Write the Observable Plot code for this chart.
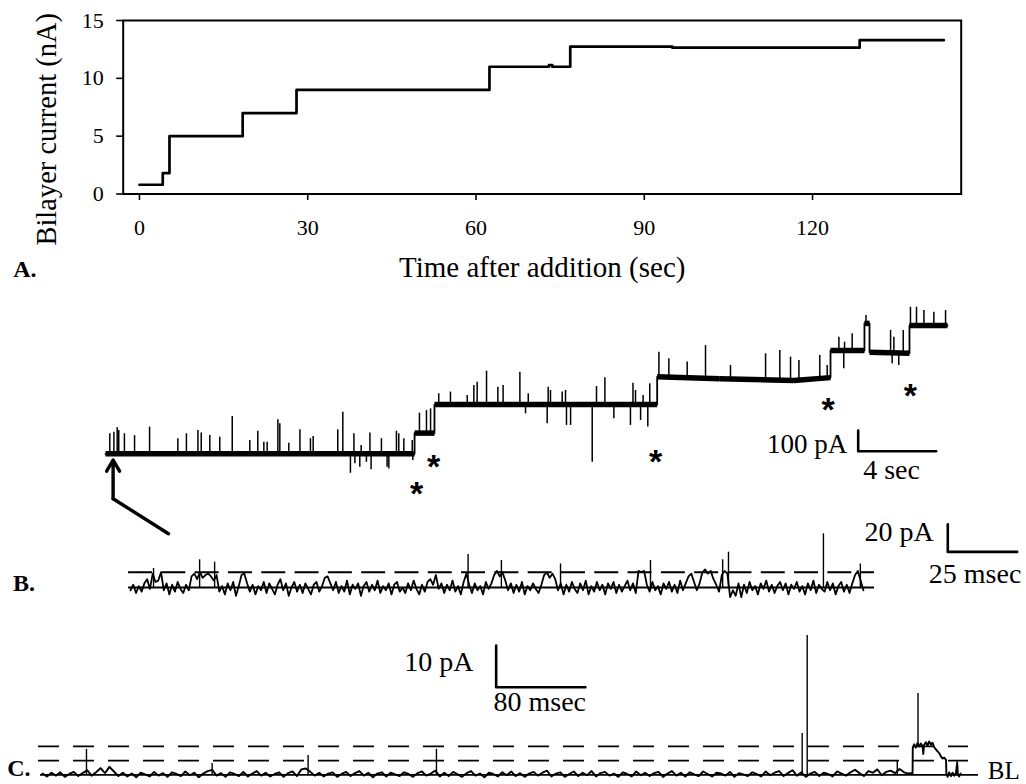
<!DOCTYPE html>
<html><head><meta charset="utf-8">
<script src="https://cdn.jsdelivr.net/npm/d3@7"></script>
<script src="https://cdn.jsdelivr.net/npm/@observablehq/plot@0.6"></script>
<style>
html,body{margin:0;padding:0;background:#fff;overflow:hidden;}
#fig{position:relative;width:1026px;height:784px;background:#fff;}
#fig svg{position:absolute;left:0;top:0;}
</style></head><body><div id="fig"></div>
<script>
// ---------- Panel A: bilayer current vs time ----------
const stepTime    = [0, 4.15, 5.35, 18.4, 28.0, 62.4, 73.0, 73.6, 76.8, 95, 128.4, 143.4];
const stepCurrent = [0.8, 1.8, 5.0, 7.0, 9.0, 11.0, 11.15, 11.0, 12.75, 12.65, 13.3, 13.3];
const xTicksA = [0, 30, 60, 90, 120];
const yTicksA = [0, 5, 10, 15];

// ---------- Panel B (overview trace, sec / pA) ----------
const ovT = [0, 15.85, 15.85, 16.87, 16.87, 28.29, 28.29, 31.5, 35.3, 37.18, 37.18, 38.92, 38.92, 39.18, 39.18, 41.23, 41.23, 43.18];
const ovI = [0, 0, 100, 100, 238, 238, 372, 362, 354, 368, 499, 499, 630, 630, 491, 486, 620, 620];
// spikes: [time sec, tip pA]
const ovSpikes = [
  [0.22,97],[0.43,104],[0.60,126],[0.68,113],[0.97,97],[1.49,88],[2.26,129],[3.71,73],[4.15,97],[4.74,113],
  [4.91,100],[5.35,88],[5.86,80],[6.50,180],[7.40,64],[7.81,109],[8.12,56],[8.29,56],[8.84,164],[8.94,145],
  [9.40,51],[9.97,116],[10.51,73],[10.65,84],[11.91,116],[12.17,201],[12.74,97],[13.11,40],[13.56,100],[14.15,73],
  [14.92,109],[15.04,97],[15.30,73],[15.73,64],
  [12.56,-94],[12.79,-48],[13.04,-65],[13.38,-41],[13.62,-77],[14.44,-65],[14.53,-73],[15.76,-32],
  [16.10,196],[16.46,209],[16.67,217],
  [17.09,290],[17.69,298],[18.55,282],[18.89,330],[19.06,346],[19.54,399],[20.12,322],[20.39,330],[21.25,394],
  [21.68,290],[22.70,322],[22.82,306],[23.42,298],[23.59,306],
  [21.54,193],[22.65,145],[23.64,137],
  [25.18,325],[25.61,367],[27.05,341],[27.18,306],[27.57,282],[27.91,338],
  [23.85,137],[24.96,-41],[26.07,169],[26.92,137],[27.44,161],[27.81,129],
  [28.38,491],[28.89,459],[29.83,443],[30.77,523],[32.05,427],[33.85,483],[34.58,499],[35.13,467],[35.56,451],
  [36.63,475],[37.01,427],
  [37.61,563],[37.90,539],[38.29,580],[37.86,411],
  [39.0,668],
  [40.26,596],[40.43,563],[40.91,596],[40.34,435],[40.68,427],
  [41.28,708],[41.59,708],[41.97,692],[42.48,684],[43.08,692]
];
// insertion events marked with asterisks: [time sec, pA]
const asterisks = [[15.95,-153],[16.82,-22.7],[28.21,2.9],[37.06,253],[41.28,321.7]];
const ovBar = {dt: 4, di: 100};   // 4 sec, 100 pA

// ---------- Panel B (expanded trace, 1 ms samples, pA) ----------
const zoomStep = 1;
const zNoise = [
  -2,2,-4,1,-3,3,6,-1,10,4,
  5,11,-2,3,-5,2,-3,4,-1,-4,
  2,-2,8,10,6,11,7,9,10,8,
  5,9,-3,1,-5,3,-2,4,-6,1,
  9,10,3,-3,2,-5,1,-2,4,-4,
  3,-1,-5,2,6,-2,3,-6,0,4,
  -3,2,-4,3,-1,-5,2,4,-3,1,
  7,8,3,-2,4,-4,1,-3,5,-5,
  2,-1,3,-6,1,4,-3,2,-2,5,
  -4,1,-2,3,-5,2,4,-3,0,-4,
  3,-2,5,-1,-5,2,-3,4,6,2,
  9,-1,3,-4,2,-2,5,-3,1,-5,
  4,10,2,-4,3,-2,1,-5,4,-1,
  3,9,12,8,11,5,-2,3,-4,2,
  -3,4,-5,1,-2,3,-1,-4,2,9,
  11,7,10,6,-2,3,-5,2,-3,4,
  -1,-4,3,-2,5,-5,1,-3,4,-2,
  2,-5,3,-1,4,-4,2,-3,1,5,
  -2,3,-4,12,11,12,2,-3,4,-2,
  1,-5,3,-1,4,-3,2,-4,5,-2,
  3,8,10,4,-2,3,11,13,10,12,
  6,2,-3,9,12,10,-7,-2,-6,3,
  -7,2,-4,4,-2,1,-5,3,-1,5,
  -3,2,-4,1,4,-2,3,-5,2,-1,
  4,-3,1,-5,3,-2,5,-4,2,-1,
  -3,4,-2,3,-5,1,4,-3,2,-4,
  3,9,12,5,-2
];
const zSpikes = [[8.3,13.7],[24.9,20],[30.3,18.3],[121.6,23.8],[133.6,19.5],[154.9,17],[187.3,19.5],[213.3,20],[215.4,25.5],[249.6,38.8],[262.9,17]];
const zOpenLevel = 11;
const zBar = {dt: 25, di: 20};    // 25 msec, 20 pA

// ---------- Panel C (4 ms samples, pA) ----------
const cStep = 4;
const cNoise = [
  0.3,-0.4,0.5,-0.2,0.6,-0.5,0.2,0.7,-0.3,0.4,
  1.1,-0.2,0.6,1.6,0.4,1.9,0.8,-0.3,0.5,-0.4,
  0.3,-0.6,0.5,0.1,-0.4,0.7,-0.2,0.4,-0.5,0.6,
  0.2,-0.3,0.8,-0.1,0.5,-0.6,0.3,0.9,1.2,-0.2,
  0.4,-0.5,0.6,0.2,-0.3,0.7,-0.4,0.3,0.9,-0.2,
  0.5,-0.4,0.2,0.6,-0.5,0.4,0.8,-0.3,1.3,1.5,
  0.7,-0.2,0.5,-0.4,0.3,0.6,-0.5,0.2,0.7,-0.3,
  0.4,0.9,-0.2,0.5,-0.6,0.3,0.6,-0.4,0.5,0.1,
  -0.3,0.6,0.2,-0.5,0.4,0.8,-0.2,0.3,1.0,-0.4,
  0.5,-0.3,0.7,0.1,-0.5,0.4,0.9,-0.2,0.3,-0.6,
  0.5,0.2,-0.4,0.6,-0.1,0.8,-0.3,0.4,-0.5,0.3,
  0.7,-0.2,0.5,1.0,-0.4,0.3,0.6,-0.5,0.2,0.8,
  -0.3,0.5,-0.1,0.9,-0.4,0.4,0.7,-0.2,0.3,-0.5,
  0.6,0.2,-0.4,0.8,-0.1,0.5,-0.3,0.4,0.7,-0.5,
  0.3,0.9,-0.2,0.5,-0.4,0.6,0.1,-0.3,0.8,0.2,
  -0.4,0.5,0.3,-0.2,0.7,-0.5,0.4,0.1,-0.3,0.6,
  0.2,-0.4,0.8,-0.1,0.5,0.9,-0.3,0.4,1.1,-0.2,
  0.6,-0.5,0.3,0.7,-0.3,0.5,0.2,-0.4,0.8,0.3,
  -0.2,0.6,1.2,0.4,-0.3,0.9,0.5,1.3,-0.1,0.7,
  1.0,0.4,1.4,0.6,0.3
];
// channel opening at the end of trace C: [ms, pA]
const cOpen = [[778,0.4],[779.6,0.1],[779.8,6.6],[781,7.3],[782.5,6.5],[784,7.6],[785.5,6.8],[787,7.5],[788.5,6.9],[789.2,5.0],[790,7.2],[791.5,7.8],[793,7.0],[794.5,8.0],[796,7.2],[797.5,7.7],[799,6.6],[800.5,6.1],[802,5.6],[803.5,5.2],[805,4.4],[806.5,3.9],[808,4.1],[809.6,3.6],[809.9,0.2],[811,-0.5],[812.5,0.6],[814,-0.3],[815.5,0.5],[817,-0.2],[818.5,0.4],[819.6,3.0],[820.2,0.1],[821.4,-0.4],[822.6,0.3]];
// spikes: [ms, tip pA, base pA]
const cSpikes = [[39.4,6.1,0],[152,2.7,0],[238,4.6,0],[353,6.1,0],[680.7,9.9,0],[685.2,33.4,0],[765.9,3.4,0],[784.5,19.5,7]];
const cLevels = [3.4, 6.8];
const cBar = {dt: 80, di: 10};    // 80 msec, 10 pA

// ---------- build tables ----------
const dataA = stepTime.map((t, k) => ({t, i: stepCurrent[k]}));
const ov = ovT.map((t, k) => ({t, i: ovI[k]}));
const ovFlat = [];
for (let k = 0; k < ov.length - 1; k++) if (ov[k+1].t > ov[k].t) ovFlat.push({t1: ov[k].t, t2: ov[k+1].t, i1: ov[k].i, i2: ov[k+1].i});
function levelAt(t) {
  for (const s of ovFlat) if (t >= s.t1 && t <= s.t2) return s.i1 + (s.i2 - s.i1) * (t - s.t1) / (s.t2 - s.t1);
  return ovI[ovI.length - 1];
}
const ovSp = ovSpikes.map(([t, tip]) => ({t, tip, base: levelAt(t)}));
const zData = zNoise.map((v, k) => ({t: k * zoomStep, i: v}));
const zSp = zSpikes.map(([t, tip]) => ({t, tip}));
const cData = cNoise.map((v, k) => ({t: k * cStep, i: v})).concat(cOpen.map(([t, i]) => ({t, i})));
const cSp = cSpikes.map(([t, tip, base]) => ({t, tip, base}));

const serif = "'Liberation Serif', 'Times New Roman', serif";
const baseStyle = {background: "transparent", overflow: "visible", fontFamily: serif, color: "black"};
const fig = document.getElementById("fig");

// ---------- Panel A ----------
fig.append(Plot.plot({
  width: 1026, height: 784,
  marginLeft: 122.7, marginRight: 65.3, marginTop: 20, marginBottom: 590.5,
  x: {domain: [-2.9, 146.5]},
  y: {domain: [0, 15]},
  style: {...baseStyle, fontSize: "22px"},
  marks: [
    Plot.axisX({ticks: xTicksA, tickSize: 6.5, tickPadding: 19, fontSize: 22, label: null, strokeWidth: 1.6}),
    Plot.axisY({ticks: yTicksA, tickSize: 6.5, tickPadding: 13, fontSize: 22, label: null, strokeWidth: 1.6}),
    Plot.frame({stroke: "black", strokeWidth: 2}),
    Plot.line(dataA, {x: "t", y: "i", curve: "step-after", stroke: "black", strokeWidth: 2.7}),
    Plot.text(["Time after addition (sec)"], {frameAnchor: "bottom", dy: 83, textAnchor: "middle", lineAnchor: "bottom", fontSize: 29}),
    Plot.text(["Bilayer current (nA)"], {frameAnchor: "left", dx: -67.7, dy: 22, rotate: -90, textAnchor: "middle", lineAnchor: "bottom", fontSize: 28.5}),
    Plot.text(["A."], {frameAnchor: "bottom-left", dx: -110, dy: 83, textAnchor: "start", lineAnchor: "bottom", fontSize: 24, fontWeight: "bold"})
  ]
}));

// ---------- Panel B overview ----------
const ovBarPts = [{t: 38.6, i: 12.6 + ovBar.di}, {t: 38.6, i: 12.6}, {t: 38.6 + ovBar.dt, i: 12.6}];
fig.append(Plot.plot({
  width: 1026, height: 784,
  x: {domain: [0, 43.2], range: [105, 947.4], axis: null},
  y: {domain: [0, 600], range: [453.3, 329.1], axis: null},
  style: baseStyle,
  marks: [
    Plot.ruleX(ovSp, {x: "t", y1: "base", y2: "tip", stroke: "black", strokeWidth: 1.5}),
    Plot.line(ov, {x: "t", y: "i", stroke: "black", strokeWidth: 1.8}),
    Plot.link(ovFlat, {x1: "t1", x2: "t2", y1: "i1", y2: "i2", stroke: "black", strokeWidth: 5.5, strokeLinecap: "butt"}),
    Plot.text(asterisks, {x: d => d[0], y: d => d[1], text: () => "*", fontFamily: "'Liberation Sans', Arial, sans-serif", fontWeight: "bold", fontSize: 34, dy: 9}),
    Plot.arrow([{x1: 0.39, y1: -217, x2: 0.39, y2: -30}], {x1: "x1", y1: "y1", x2: "x2", y2: "y2", stroke: "black", strokeWidth: 3.4, headLength: 14, headAngle: 60}),
    Plot.line([{t: 3.23, i: -386}, {t: 0.39, i: -217}], {x: "t", y: "i", stroke: "black", strokeWidth: 3.4}),
    Plot.line(ovBarPts, {x: "t", y: "i", stroke: "black", strokeWidth: 2.6}),
    Plot.text([ovBar.di + " pA"], {x: 38.6, y: 12.6, dx: -11, dy: 2, textAnchor: "end", lineAnchor: "bottom", fontSize: 27}),
    Plot.text([ovBar.dt + " sec"], {x: 38.6, y: 12.6, dx: 5, dy: 28, textAnchor: "start", lineAnchor: "bottom", fontSize: 28})
  ]
}));

// ---------- Panel B expanded ----------
const zBarPts = [{t: 294.4, i: 25.7 + zBar.di}, {t: 294.4, i: 25.7}, {t: 294.4 + zBar.dt, i: 25.7}];
fig.append(Plot.plot({
  width: 1026, height: 784,
  x: {domain: [0, 264], range: [130, 862.9], axis: null},
  y: {domain: [0, 20], range: [587, 559.3], axis: null},
  style: baseStyle,
  marks: [
    Plot.ruleY([zOpenLevel], {x1: -0.7, x2: 268, stroke: "black", strokeWidth: 1.9, strokeDasharray: "24,9.3"}),
    Plot.ruleY([0], {x1: -0.7, x2: 268, stroke: "black", strokeWidth: 1.9}),
    Plot.line(zData, {x: "t", y: "i", stroke: "black", strokeWidth: 1.8}),
    Plot.ruleX(zSp, {x: "t", y1: 0, y2: "tip", stroke: "black", strokeWidth: 1.4}),
    Plot.line(zBarPts, {x: "t", y: "i", stroke: "black", strokeWidth: 2.6}),
    Plot.text([zBar.di + " pA"], {x: 294.4, y: 25.7, dx: -14, dy: -11, textAnchor: "end", lineAnchor: "bottom", fontSize: 28}),
    Plot.text([zBar.dt + " msec"], {x: 294.4, y: 25.7, dx: -19, dy: 30.6, textAnchor: "start", lineAnchor: "bottom", fontSize: 28}),
    Plot.text(["B."], {x: -42.3, y: -2.2, textAnchor: "start", lineAnchor: "bottom", fontSize: 24, fontWeight: "bold"})
  ]
}));

// ---------- Panel C ----------
const cBarPts = [{t: 406.5, i: 21 + cBar.di}, {t: 406.5, i: 21}, {t: 406.5 + cBar.dt, i: 21}];
fig.append(Plot.plot({
  width: 1026, height: 784,
  x: {domain: [0, 824], range: [42, 961.6], axis: null},
  y: {domain: [0, 10], range: [774.3, 732.6], axis: null},
  style: baseStyle,
  marks: [
    Plot.ruleY(cLevels, {x1: -3.6, x2: 829.7, stroke: "black", strokeWidth: 1.8, strokeDasharray: "21,14"}),
    Plot.ruleY([0], {x1: -1.8, x2: 838.7, stroke: "black", strokeWidth: 1.8}),
    Plot.line(cData, {x: "t", y: "i", stroke: "black", strokeWidth: 1.9}),
    Plot.ruleX(cSp, {x: "t", y1: "base", y2: "tip", stroke: "black", strokeWidth: 1.4}),
    Plot.line(cBarPts, {x: "t", y: "i", stroke: "black", strokeWidth: 2.6}),
    Plot.text([cBar.di + " pA"], {x: 406.5, y: 21, dx: -22.7, dy: -16.7, textAnchor: "end", lineAnchor: "bottom", fontSize: 28}),
    Plot.text([cBar.dt + " msec"], {x: 406.5, y: 21, dx: -2.7, dy: 23.3, textAnchor: "start", lineAnchor: "bottom", fontSize: 28}),
    Plot.text(["BL"], {x: 847, y: 0, dy: -4, textAnchor: "start", lineAnchor: "middle", fontSize: 25}),
    Plot.text(["C."], {x: -31.6, y: -0.2, textAnchor: "start", lineAnchor: "bottom", fontSize: 24, fontWeight: "bold"})
  ]
}));
</script></body></html>
